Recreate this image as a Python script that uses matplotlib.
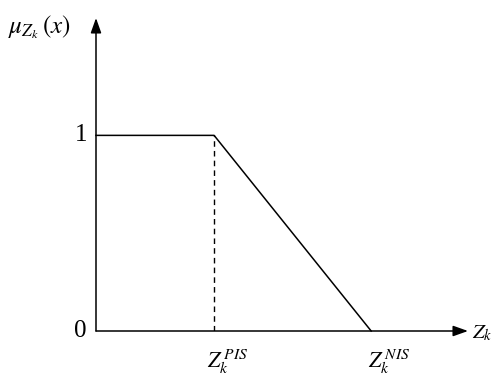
import matplotlib
matplotlib.use("Agg")
import matplotlib.pyplot as plt

plt.rcParams['mathtext.fontset'] = 'stix'
plt.rcParams['font.family'] = 'Liberation Serif'

# membership function breakpoints
x_pts = [0, 1, 2.33]
y_pts = [1, 1, 0]
pis_x = 1
nis_x = 2.33
y_ticks = [0, 1]
y_tick_labels = ["0", "1"]
x_max = 3.15
y_max = 1.60

fig = plt.figure(figsize=(4.97, 3.77), dpi=100)
ax = fig.add_axes([96 / 497, 46 / 377, 372 / 497, 313 / 377])
ax.set_xlim(0, x_max)
ax.set_ylim(0, y_max)
ax.axis('off')

# axes with arrows
arrow = dict(arrowstyle='-|>,head_length=0.9,head_width=0.32',
             color='black', lw=1.1, shrinkA=0, shrinkB=0)
ax.annotate('', xy=(x_max, 0), xytext=(0, 0), annotation_clip=False, arrowprops=arrow)
ax.annotate('', xy=(0, y_max), xytext=(0, 0), annotation_clip=False, arrowprops=arrow)

ax.plot(x_pts, y_pts, color='black', lw=1.1, clip_on=False)
ax.plot([pis_x, pis_x], [0, 1], color='black', lw=1.0, ls=(0, (4, 3)))

for t, lab in zip(y_ticks, y_tick_labels):
    ax.annotate(lab, xy=(0, t), xytext=(-6.5, 0), textcoords='offset points',
                fontsize=18, ha='right', va='center')

ax.annotate(r'$Z_k^{\,PIS}$', xy=(pis_x, 0), xytext=(-5, -27),
            textcoords='offset points', fontsize=16, ha='left', va='baseline')
ax.annotate(r'$Z_k^{\,NIS}$', xy=(nis_x, 0), xytext=(-2.5, -27),
            textcoords='offset points', fontsize=16, ha='left', va='baseline')
ax.annotate(r'$Z_k$', xy=(x_max, 0), xytext=(3, -5),
            textcoords='offset points', fontsize=15, ha='left', va='baseline',
            annotation_clip=False)
fig.text(8 / 497, 1 - 27 / 377, r'$\mu_{Z_k}\,(x)$', fontsize=18, ha='left', va='center')

fig.savefig("out.png", dpi=100)
